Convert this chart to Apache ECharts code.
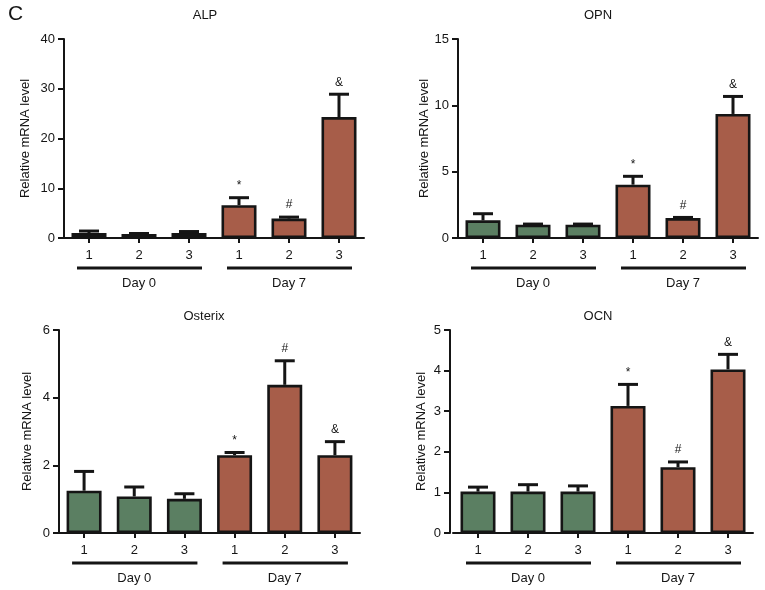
<!DOCTYPE html>
<html>
<head>
<meta charset="utf-8">
<script src="https://cdn.jsdelivr.net/npm/echarts@6/dist/echarts.min.js"></script>
<style>html,body{margin:0;padding:0;background:#fff}#c{width:765px;height:590px}</style>
</head>
<body>
<div id="c"></div>
<script>
// ---- data ----
const panelLetter = 'C';
const categories = ['Day 0 - 1', 'Day 0 - 2', 'Day 0 - 3', 'Day 7 - 1', 'Day 7 - 2', 'Day 7 - 3'];
const tickLabels = ['1', '2', '3', '1', '2', '3'];
const groupNames = ['Day 0', 'Day 7'];
const groupSpans = [[0, 2], [3, 5]];
const marks = ['', '', '', '*', '#', '&'];
const yAxisTitle = 'Relative mRNA level';

const alpMean = [1.0, 0.8, 1.0, 6.6, 3.9, 24.3];
const alpSem  = [0.4, 0.1, 0.3, 1.5, 0.3, 4.6];
const opnMean = [1.33, 1.0, 1.0, 4.02, 1.5, 9.35];
const opnSem  = [0.5, 0.05, 0.05, 0.63, 0.05, 1.32];
const osxMean = [1.25, 1.08, 1.01, 2.3, 4.38, 2.3];
const osxSem  = [0.57, 0.28, 0.15, 0.08, 0.71, 0.4];
const ocnMean = [1.02, 1.02, 1.02, 3.13, 1.62, 4.03];
const ocnSem  = [0.11, 0.17, 0.14, 0.53, 0.13, 0.37];

const titles = ['ALP', 'OPN', 'Osterix', 'OCN'];
const yMax = [40, 15, 6, 5];
const yInterval = [10, 5, 2, 1];

// ---- layout / style ----
const FONT = '"Liberation Sans", Arial, Helvetica, sans-serif';
const GREEN = '#5b7f62';
const RED = '#a75d49';
const INK = '#151515';
const layout = [
  { left: 64, top: 39, width: 300, height: 199, nameGap: 32, offset: 0, titleX: 205, titleY: 15 },
  { left: 458, top: 39, width: 300, height: 199, nameGap: 27, offset: 0, titleX: 598, titleY: 15 },
  { left: 59, top: 330, width: 301, height: 203, nameGap: 25, offset: 0, titleX: 204, titleY: 316 },
  { left: 453, top: 330, width: 300, height: 203, nameGap: 22, offset: 3, titleX: 598, titleY: 316 }
];
const means = [alpMean, opnMean, osxMean, ocnMean];
const sems = [alpSem, opnSem, osxSem, ocnSem];

const grid = [], xAxis = [], yAxis = [], series = [], graphic = [];
graphic.push({ type: 'text', left: 8, top: 4, style: { text: panelLetter, font: '21px ' + FONT, fill: INK } });

layout.forEach((L, k) => {
  grid.push({ left: L.left, top: L.top, width: L.width, height: L.height, containLabel: false });
  xAxis.push({
    type: 'category', gridIndex: k, data: categories,
    axisLine: { lineStyle: { color: INK, width: 2 } },
    axisTick: { show: true, alignWithLabel: true, length: 5, lineStyle: { color: INK, width: 2 } },
    axisLabel: { formatter: (v, i) => tickLabels[i], color: INK, fontSize: 13, fontFamily: FONT, margin: 11 }
  });
  yAxis.push({
    type: 'value', gridIndex: k, min: 0, max: yMax[k], interval: yInterval[k], offset: L.offset,
    name: yAxisTitle, nameLocation: 'middle', nameGap: L.nameGap,
    nameTextStyle: { color: INK, fontSize: 13, fontFamily: FONT },
    axisLine: { show: true, lineStyle: { color: INK, width: 2 } },
    axisTick: { show: true, length: 6, lineStyle: { color: INK, width: 2 } },
    axisLabel: { color: INK, fontSize: 13, fontFamily: FONT, margin: 9 },
    splitLine: { show: false }
  });
  graphic.push({ type: 'text', x: L.titleX, y: L.titleY, style: { text: titles[k], font: '13px ' + FONT, fill: INK, textAlign: 'center', textVerticalAlign: 'middle' } });

  series.push({
    type: 'bar', xAxisIndex: k, yAxisIndex: k, barWidth: 35,
    data: means[k].map((v, i) => ({ value: v, itemStyle: { color: i < 3 ? GREEN : RED } })),
    itemStyle: { borderColor: INK, borderWidth: 2.6 },
    emphasis: { disabled: true }, z: 2
  });
  series.push({
    type: 'custom', xAxisIndex: k, yAxisIndex: k, z: 3, silent: true,
    data: means[k].map((v, i) => [i, v, v + sems[k][i]]),
    encode: { x: 0, y: [1, 2] },
    renderItem: (params, api) => {
      const i = api.value(0);
      const p0 = api.coord([i, api.value(1)]);
      const p1 = api.coord([i, api.value(2)]);
      const children = [];
      if (p0[1] - p1[1] > 1) {
        children.push({ type: 'line', shape: { x1: p0[0], y1: p0[1], x2: p1[0], y2: p1[1] }, style: { stroke: INK, lineWidth: 3 } });
      }
      children.push({ type: 'line', shape: { x1: p1[0] - 10, y1: p1[1], x2: p1[0] + 10, y2: p1[1] }, style: { stroke: INK, lineWidth: 3 } });
      const m = marks[params.dataIndex];
      if (m) children.push({ type: 'text', style: { text: m, x: p1[0], y: p1[1] - 6, textAlign: 'center', textVerticalAlign: 'bottom', font: '12px ' + FONT, fill: INK } });
      return { type: 'group', children };
    }
  });
  series.push({
    type: 'custom', xAxisIndex: k, yAxisIndex: k, z: 3, silent: true, clip: false,
    data: groupSpans.map(s => [s[0], s[1]]),
    encode: { x: [0, 1] },
    renderItem: (params, api) => {
      const a = api.coord([api.value(0), 0]);
      const b = api.coord([api.value(1), 0]);
      const y = a[1] + 30;
      return { type: 'group', children: [
        { type: 'line', shape: { x1: a[0] - 12, y1: y, x2: b[0] + 13, y2: y }, style: { stroke: INK, lineWidth: 3 } },
        { type: 'text', style: { text: groupNames[params.dataIndex], x: (a[0] + b[0]) / 2, y: y + 15, textAlign: 'center', textVerticalAlign: 'middle', font: '13px ' + FONT, fill: INK } }
      ] };
    }
  });
});

const chart = echarts.init(document.getElementById('c'), null, { renderer: 'canvas' });
chart.setOption({ animation: false, backgroundColor: '#fff', grid, xAxis, yAxis, series, graphic });
</script>
</body>
</html>
